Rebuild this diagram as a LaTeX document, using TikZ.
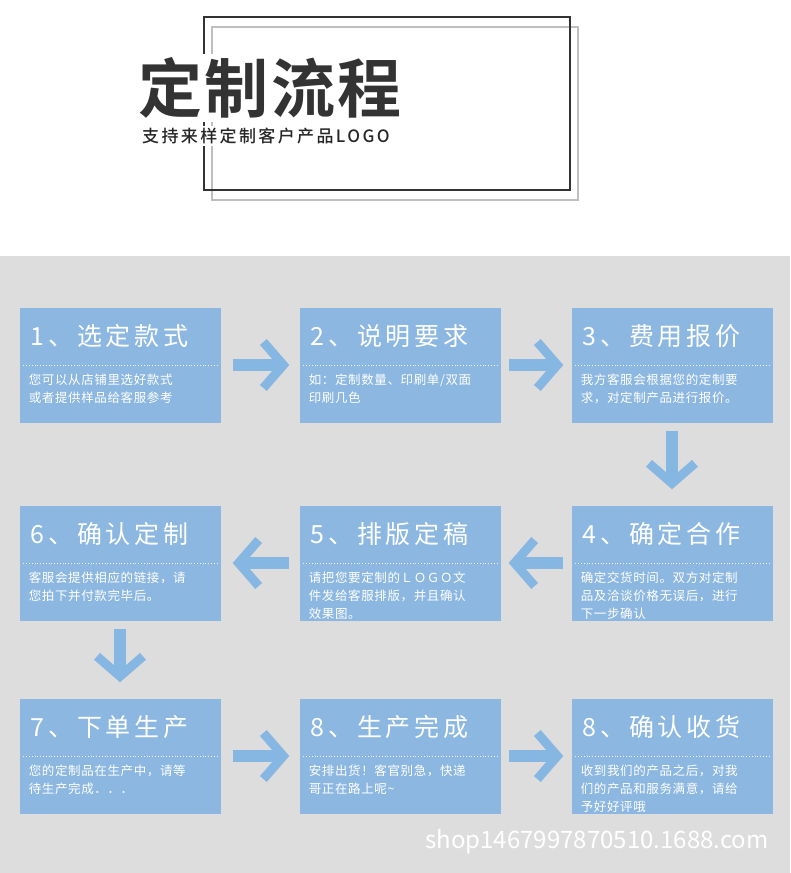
\documentclass[tikz,border=0pt]{standalone}
\usepackage{fontspec}
\setmainfont{Noto Sans CJK SC}
\newfontfamily\cjk{Noto Sans CJK SC}[LetterSpace=5]
\newfontfamily\cjkbold{Noto Sans CJK SC Bold}[LetterSpace=4]
\newfontfamily\cjkwide{Noto Sans CJK SC}[LetterSpace=15]
\newfontfamily\cjksub{Noto Sans CJK SC Medium}[LetterSpace=14]
\usetikzlibrary{arrows.meta,positioning}
\definecolor{boxblue}{HTML}{8CB7E0}
\definecolor{arrowblue}{HTML}{86B6E2}
\definecolor{bggrey}{HTML}{DDDDDD}
\tikzset{
  stepbox/.style={fill=boxblue, minimum width=201pt, minimum height=115pt, inner sep=0pt},
  steptitle/.style={text=white, font=\cjkwide\fontsize{25}{27}\selectfont, anchor=west},
  steptext/.style={text=white, font=\cjk\fontsize{12.5}{18}\selectfont, anchor=north west, align=left},
  flow/.style={draw=arrowblue, line width=12pt, -{Straight Barb[length=20pt,width=46pt,line width=9pt]}}
}
\begin{document}
\begin{tikzpicture}[x=1pt,y=-1pt]
  \useasboundingbox (0,0) rectangle (790,873);
  \fill[bggrey] (0,256) rectangle (790,873);
  % header frame
  \draw[black!25, line width=1.5pt] (212,27) rectangle (578,200);
  \draw[black!80, line width=2pt] (204,17) rectangle (570,190);
  \node[fill=white, inner sep=4pt, anchor=west, text=black!80] (title) at (134,88)
    {\cjkbold\fontsize{64}{68}\selectfont 定制流程};
  \node[fill=white, inner sep=2pt, anchor=west, text=black!85] (sub) at (140,136)
    {\cjksub\fontsize{17}{20}\selectfont 支持来样定制客户产品LOGO};
  % steps
  \foreach \n/\x/\y/\t/\s in {
    b1/120/365/{1、选定款式}/{您可以从店铺里选好款式\\或者提供样品给客服参考},
    b2/400/365/{2、说明要求}/{如：定制数量、印刷单/双面\\印刷几色},
    b3/672/365/{3、费用报价}/{我方客服会根据您的定制要\\求，对定制产品进行报价。},
    b6/120/563/{6、确认定制}/{客服会提供相应的链接，请\\您拍下并付款完毕后。},
    b5/400/563/{5、排版定稿}/{请把您要定制的ＬＯＧＯ文\\件发给客服排版，并且确认\\效果图。},
    b4/672/563/{4、确定合作}/{确定交货时间。双方对定制\\品及洽谈价格无误后，进行\\下一步确认},
    b7/120/756/{7、下单生产}/{您的定制品在生产中，请等\\待生产完成．．．},
    b8/400/756/{8、生产完成}/{安排出货！客官别急，快递\\哥正在路上呢\textasciitilde},
    b9/672/756/{8、确认收货}/{收到我们的产品之后，对我\\们的产品和服务满意，请给\\予好好评哦}}
  {
    \node[stepbox] (\n) at (\x,\y) {};
    \node[steptitle] at ([xshift=8pt,yshift=-29pt]\n.north west) {\t};
    \draw[white!85!boxblue, dotted, line width=0.8pt]
      ([xshift=4pt,yshift=-58pt]\n.north west) -- ([xshift=-4pt,yshift=-58pt]\n.north east);
    \node[steptext] at ([xshift=6pt,yshift=-63pt]\n.north west) {\s};
  }
  % connectors
  \draw[flow, shorten <=12pt, shorten >=10pt] (b1.east) -- (b2.west);
  \draw[flow, shorten <=8pt, shorten >=8pt] (b2.east) -- (b3.west);
  \draw[flow, shorten <=8pt, shorten >=16pt] (b3.south) -- (b4.north);
  \draw[flow, shorten <=8pt, shorten >=8pt] (b4.west) -- (b5.east);
  \draw[flow, shorten <=10pt, shorten >=12pt] (b5.west) -- (b6.east);
  \draw[flow, shorten <=8pt, shorten >=16pt] (b6.south) -- (b7.north);
  \draw[flow, shorten <=12pt, shorten >=10pt] (b7.east) -- (b8.west);
  \draw[flow, shorten <=8pt, shorten >=8pt] (b8.east) -- (b9.west);
  % watermark
  \node[text=white, font=\fontsize{24}{26}\selectfont, anchor=east] (mark) at (772,842)
    {shop1467997870510.1688.com};
\end{tikzpicture}
\end{document}
